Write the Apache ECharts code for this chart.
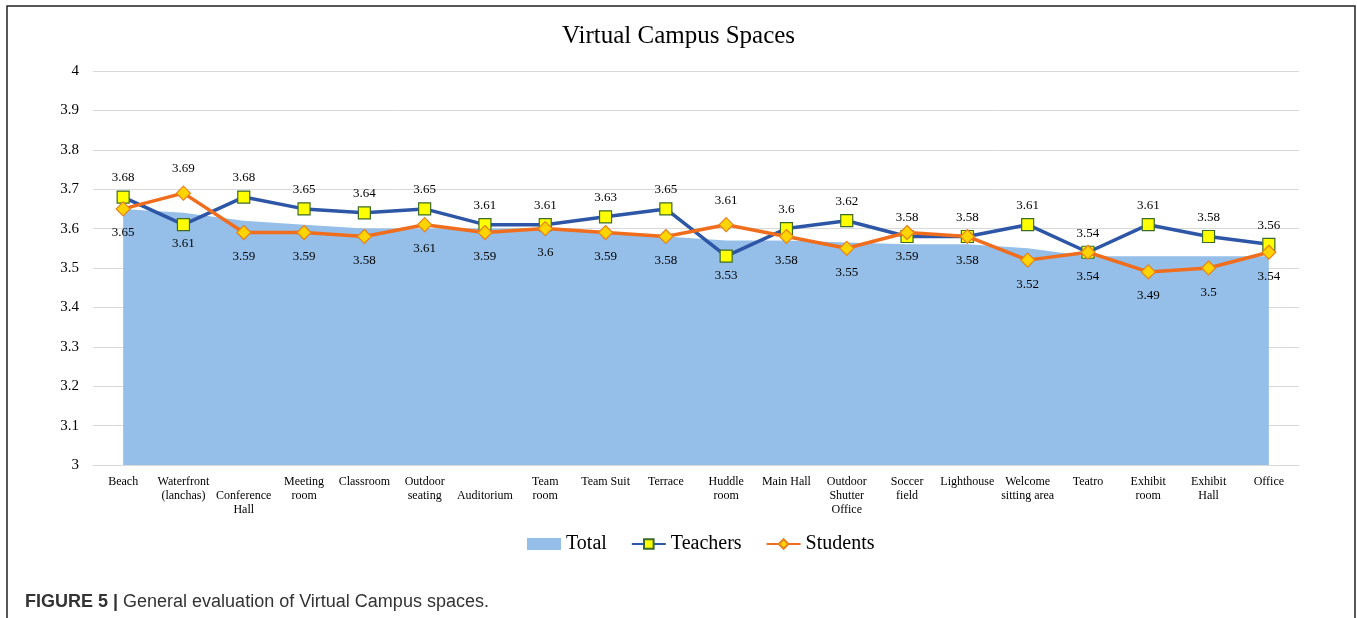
<!DOCTYPE html>
<html>
<head>
<meta charset="utf-8">
<script src="https://cdn.jsdelivr.net/npm/echarts@6/dist/echarts.min.js"></script>
<style>
  html, body { margin: 0; padding: 0; background: #fff; }
  #main { width: 1357px; height: 618px; }
</style>
</head>
<body>
<div id="main"></div>
<script>
// categories (line breaks as in the original axis)
var spaces = ['Beach', 'Waterfront\n(lanchas)', '\nConference\nHall', 'Meeting\nroom', 'Classroom',
  'Outdoor\nseating', '\nAuditorium', 'Team\nroom', 'Team Suit', 'Terrace', 'Huddle\nroom',
  'Main Hall', 'Outdoor\nShutter\nOffice', 'Soccer\nfield', 'Lighthouse', 'Welcome\nsitting area',
  'Teatro', 'Exhibit\nroom', 'Exhibit\nHall', 'Office'];

var total = [3.65, 3.64, 3.62, 3.61, 3.60, 3.60, 3.60, 3.60, 3.59, 3.58,
  3.57, 3.57, 3.565, 3.56, 3.56, 3.55, 3.53, 3.53, 3.53, 3.53];
var teachers = [3.68, 3.61, 3.68, 3.65, 3.64, 3.65, 3.61, 3.61, 3.63, 3.65,
  3.53, 3.6, 3.62, 3.58, 3.58, 3.61, 3.54, 3.61, 3.58, 3.56];
var students = [3.65, 3.69, 3.59, 3.59, 3.58, 3.61, 3.59, 3.6, 3.59, 3.58,
  3.61, 3.58, 3.55, 3.59, 3.58, 3.52, 3.54, 3.49, 3.5, 3.54];

// points whose label sits on the other side
var teachersBelow = [1, 10];
var studentsAbove = [1, 10];

var serif = '"Liberation Serif", "DejaVu Serif", serif';
var sans = '"Liberation Sans", Arial, sans-serif';

function withLabels(values, flipIdx, normalPos, flipPos) {
  return values.map(function (v, i) {
    return {
      value: v,
      label: { position: flipIdx.indexOf(i) >= 0 ? flipPos : normalPos }
    };
  });
}

var chart = echarts.init(document.getElementById('main'));

var option = {
  backgroundColor: '#fff',
  animation: false,
  title: [{
    text: 'Virtual Campus Spaces',
    left: 'center',
    top: 19,
    textStyle: { fontFamily: serif, fontSize: 25, fontWeight: 'normal', color: '#000' }
  }, {
    text: '{b|FIGURE 5 |} {n|General evaluation of Virtual Campus spaces.}',
    left: 20,
    top: 588,
    textStyle: {
      fontWeight: 'normal',
      rich: {
        b: { fontFamily: sans, fontSize: 18, fontWeight: 'bold', color: '#333' },
        n: { fontFamily: sans, fontSize: 18, fontWeight: 'normal', color: '#333' }
      }
    }
  }],
  graphic: [{
    type: 'rect',
    shape: { x: 7, y: 6, width: 1348, height: 700 },
    style: { fill: 'none', stroke: '#222', lineWidth: 1.5 },
    silent: true
  }],
  legend: {
    bottom: 59,
    left: 522,
    itemGap: 24,
    itemWidth: 34,
    itemHeight: 12,
    textStyle: { fontFamily: serif, fontSize: 20, color: '#000' },
    data: [
      { name: 'Total', icon: 'rect', itemStyle: { color: '#95bfe8' } },
      { name: 'Teachers' },
      { name: 'Students' }
    ]
  },
  grid: { left: 93, right: 58, top: 71, bottom: 153 },
  xAxis: {
    type: 'category',
    data: spaces,
    boundaryGap: true,
    axisLine: { lineStyle: { color: '#d9d9d9', width: 1 } },
    axisTick: { show: false },
    axisLabel: {
      interval: 0,
      margin: 10,
      fontFamily: serif,
      fontSize: 12,
      lineHeight: 14,
      color: '#000',
      verticalAlign: 'top'
    }
  },
  yAxis: {
    type: 'value',
    min: 3,
    max: 4,
    interval: 0.1,
    axisLine: { show: false },
    axisTick: { show: false },
    axisLabel: { fontFamily: serif, fontSize: 15, color: '#000', margin: 14 },
    splitLine: { lineStyle: { color: '#d9d9d9', width: 1 } }
  },
  series: [{
    name: 'Total',
    type: 'line',
    data: total,
    symbol: 'none',
    lineStyle: { width: 0 },
    itemStyle: { color: '#95bfe8' },
    areaStyle: { color: '#95bfe8', opacity: 1 },
    z: 1
  }, {
    name: 'Teachers',
    type: 'line',
    data: withLabels(teachers, teachersBelow, 'top', 'bottom'),
    symbol: 'rect',
    symbolSize: 12,
    lineStyle: { color: '#2e56a6', width: 3.5 },
    itemStyle: { color: '#ffff00', borderColor: '#3d6b2a', borderWidth: 1.2 },
    label: {
      show: true,
      distance: 6,
      fontFamily: serif,
      fontSize: 13,
      color: '#000'
    },
    z: 3
  }, {
    name: 'Students',
    type: 'line',
    data: withLabels(students, studentsAbove, 'bottom', 'top'),
    symbol: 'diamond',
    symbolSize: 14,
    lineStyle: { color: '#ef6d1c', width: 3.5 },
    itemStyle: { color: '#ffd400', borderColor: '#e6821e', borderWidth: 1.2 },
    label: {
      show: true,
      distance: 10,
      fontFamily: serif,
      fontSize: 13,
      color: '#000'
    },
    z: 4
  }]
};

chart.setOption(option);
</script>
</body>
</html>
